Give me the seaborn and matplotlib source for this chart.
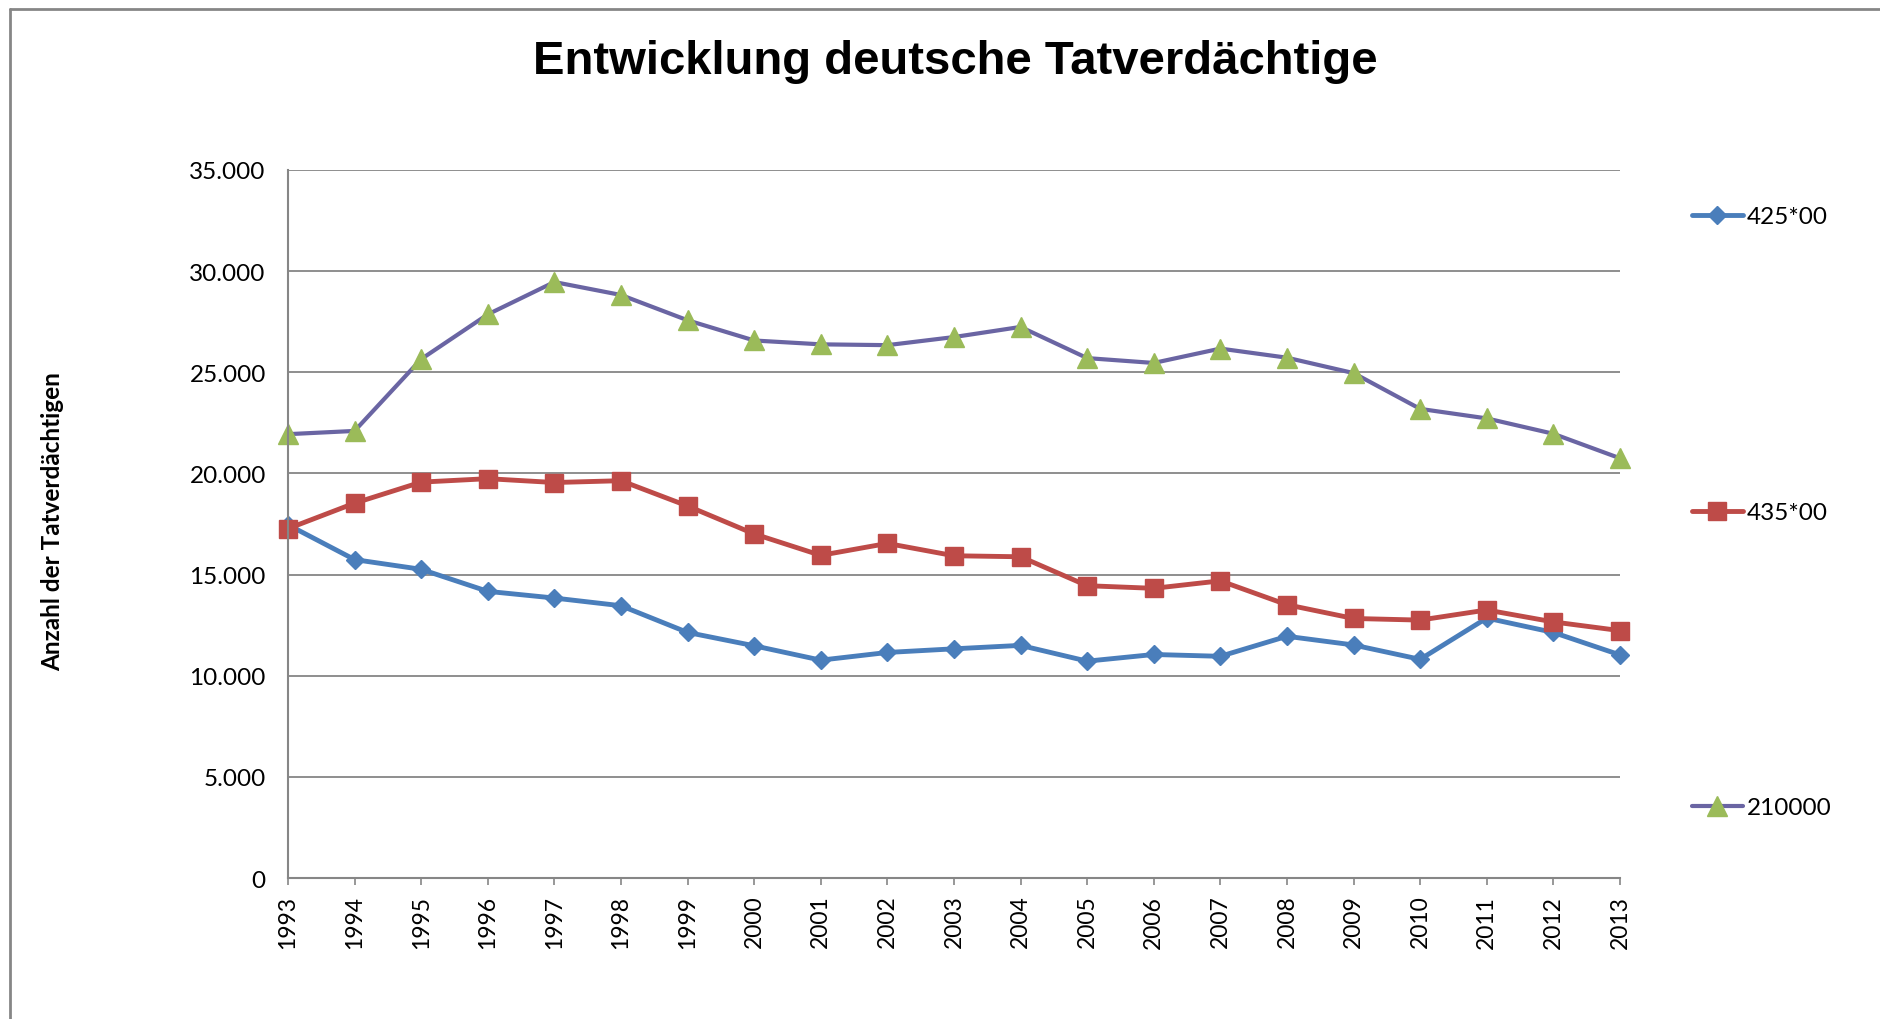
import numpy as np
import pandas as pd
import matplotlib
matplotlib.use("Agg")
import matplotlib.pyplot as plt
import seaborn as sns
from matplotlib.lines import Line2D
from matplotlib.ticker import FuncFormatter

years = list(range(1993, 2014))
serie_425 = [17460, 15740, 15260, 14170, 13840, 13460, 12140, 11480, 10770, 11150, 11330,
             11500, 10720, 11050, 10960, 11950, 11520, 10810, 12850, 12140, 11030]
serie_435 = [17270, 18530, 19570, 19740, 19550, 19640, 18390, 17010, 15950, 16540, 15930,
             15880, 14450, 14320, 14690, 13510, 12830, 12750, 13250, 12660, 12230]
serie_210 = [21940, 22100, 25650, 27860, 29460, 28820, 27570, 26570, 26380, 26340, 26740,
             27240, 25700, 25460, 26170, 25720, 24960, 23190, 22720, 21960, 20750]
labels = ["425*00", "435*00", "210000"]

sns.set_style("white")
plt.rcParams["font.family"] = ["Lato", "DejaVu Sans"]
plt.rcParams["text.color"] = "black"
plt.rcParams["xtick.labelcolor"] = "black"
plt.rcParams["ytick.labelcolor"] = "black"

fig = plt.figure(figsize=(18.81, 10.20), dpi=100)
ax = fig.add_axes([0.1531, 0.1382, 0.7081, 0.6942])

grau = "#868686"
ax.set_axisbelow(True)
ax.yaxis.grid(True, color=grau, lw=1.3)

sns.lineplot(x=years, y=serie_425, ax=ax, color="#4A7EBB", lw=3.5, marker="D", ms=9.5,
             mfc="#4A7EBB", mec="#4A7EBB", mew=1, label=labels[0], clip_on=False)
sns.lineplot(x=years, y=serie_435, ax=ax, color="#BE4B48", lw=3.5, marker="s", ms=13,
             mfc="#BE4B48", mec="#BE4B48", mew=1, label=labels[1], clip_on=False)
sns.lineplot(x=years, y=serie_210, ax=ax, color="#6A65A3", lw=3.0, marker="^", ms=14,
             mfc="#9BBB59", mec="#9BBB59", mew=1, label=labels[2], clip_on=False)

ax.set_xlim(1993, 2013)
ax.set_ylim(0, 35000)
ax.set_xticks(years)
ax.set_xticklabels([str(j) for j in years], rotation=90, fontsize=16.5)
ax.set_yticks(range(0, 35001, 5000))
ax.yaxis.set_major_formatter(FuncFormatter(lambda v, p: f"{int(v):,}".replace(",", ".")))
ax.tick_params(axis="y", length=0, pad=16, labelsize=17.5)
ax.tick_params(axis="x", direction="out", length=5, width=1.2, color=grau, pad=7, bottom=True)
ax.set_xlabel("")
ax.set_ylabel("")
for s in ["top", "right"]:
    ax.spines[s].set_visible(False)
for s in ["left", "bottom"]:
    ax.spines[s].set_color(grau)
    ax.spines[s].set_linewidth(1.5)
ax.get_legend().remove()

# Legende: drei Einträge rechts, gleichmäßig verteilt
linien = ax.get_lines()
for linie, lab, y in zip(linien, labels, [0.7863, 0.4961, 0.2069]):
    fig.legend(handles=[linie], labels=[lab], loc="center left", bbox_to_anchor=(0.8995, y),
               frameon=False, fontsize=17.5, handlelength=2.1, handletextpad=0.15,
               borderpad=0, borderaxespad=0)

fig.text(0.508, 1 - 62 / 1020, "Entwicklung deutsche Tatverdächtige", ha="center", va="center",
         fontsize=34, fontweight="bold", family=["Liberation Sans", "DejaVu Sans"])
fig.text(53 / 1881, 1 - 522 / 1020, "Anzahl der Tatverdächtigen", rotation=90, ha="center",
         va="center", fontsize=17.5, fontweight="bold")

# Rahmen des Diagrammbereichs
fig.add_artist(Line2D([10 / 1881, 10 / 1881], [0, 1 - 10 / 1020], color=grau, lw=2,
                      transform=fig.transFigure))
fig.add_artist(Line2D([10 / 1881, 1], [1 - 10 / 1020, 1 - 10 / 1020], color=grau, lw=2,
                      transform=fig.transFigure))

fig.savefig("out.png", dpi=100, facecolor="white")
